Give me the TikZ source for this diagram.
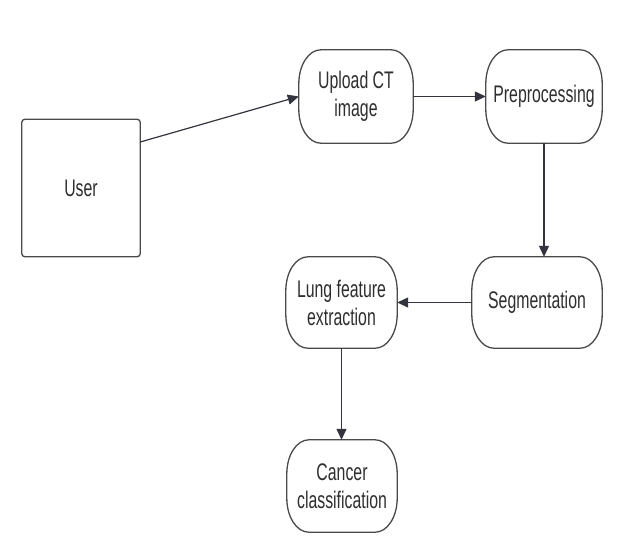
\documentclass[tikz,border=0pt]{standalone}
\usepackage{fontspec}
\setmainfont{Liberation Sans}[FakeStretch=0.66]
\usetikzlibrary{arrows.meta}
\definecolor{linec}{HTML}{4A4A4A}
\definecolor{arrc}{HTML}{34343E}
\definecolor{txtc}{HTML}{2E2E2E}
\tikzset{
  lbl/.style={draw=none, inner sep=0pt, align=center, text=txtc,
    font=\fontsize{24pt}{28pt}\selectfont},
  boxline/.style={draw=linec, line width=1.3pt},
  conn/.style={draw=arrc, line width=1.2pt, -{Triangle[length=11pt,width=10pt]}},
}
\newcommand\roundbox[1]{%
  \draw[boxline] ([xshift=22pt]#1.north west) -- ([xshift=-22pt]#1.north east)
    arc[start angle=90,end angle=0,x radius=22pt,y radius=34pt]
    -- ([yshift=34pt]#1.south east)
    arc[start angle=0,end angle=-90,x radius=22pt,y radius=34pt]
    -- ([xshift=22pt]#1.south west)
    arc[start angle=-90,end angle=-180,x radius=22pt,y radius=34pt]
    -- ([yshift=-34pt]#1.north west)
    arc[start angle=180,end angle=90,x radius=22pt,y radius=34pt] -- cycle;}
\begin{document}
\begin{tikzpicture}[x=1pt,y=-1pt]
\fill[white] (0,0) rectangle (637,552);
\useasboundingbox (0,0) rectangle (637,552);
\node[lbl, minimum width=118pt, minimum height=137pt] (user) at (81,188) {User};
\draw[boxline, rounded corners=3pt] (user.north west) rectangle (user.south east);
\node[lbl, minimum width=114pt, minimum height=93pt] (upload) at (356,96.5) {Upload CT\\image};
\node[lbl, minimum width=116pt, minimum height=93pt] (pre) at (544,96.5) {Preprocessing};
\node[lbl, minimum width=130pt, minimum height=91pt] (seg) at (537,302.5) {Segmentation};
\node[lbl, minimum width=111pt, minimum height=91pt] (lung) at (341.5,302.5) {Lung feature\\extraction};
\node[lbl, minimum width=110pt, minimum height=92pt] (cancer) at (342,486) {Cancer\\classification};
\roundbox{upload}
\roundbox{pre}
\roundbox{seg}
\roundbox{lung}
\roundbox{cancer}
\coordinate (ustart) at ([yshift=46pt]user.east);
\draw[conn] (ustart) -- (upload.west);
\draw[conn] (upload.east) -- (pre.west);
\draw[conn] (pre.south) -- (pre.south |- seg.north);
\draw[conn] (seg.west) -- (lung.east);
\draw[conn] (lung.south) -- (lung.south |- cancer.north);
\end{tikzpicture}
\end{document}
